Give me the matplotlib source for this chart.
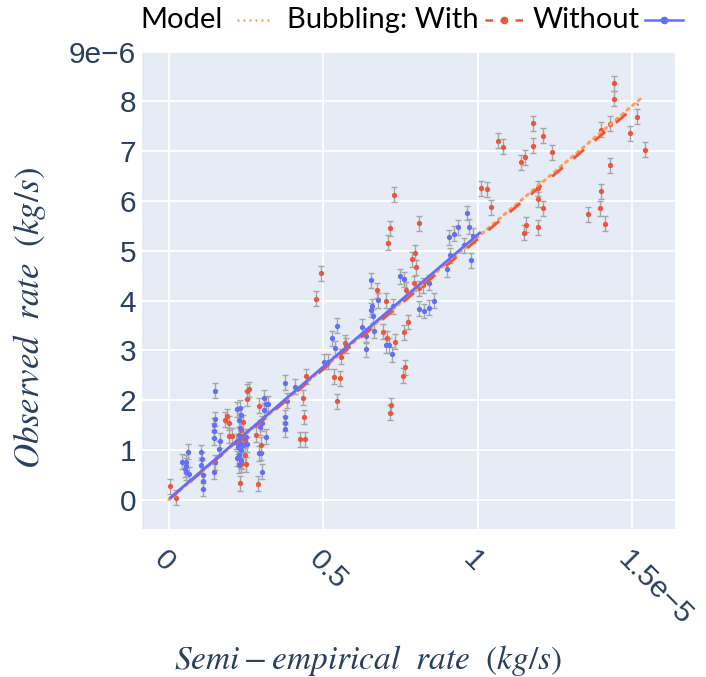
import numpy as np
import matplotlib
matplotlib.use("Agg")
import matplotlib.pyplot as plt
import matplotlib.transforms as mtransforms
from matplotlib.lines import Line2D

plt.rcParams["mathtext.fontset"] = "stix"

# Units used by the stored values
X_UNIT = 1e-5   # semi-empirical rate, kg/s
Y_UNIT = 1e-6   # observed rate, kg/s

# Bubbling: With (semi-empirical, observed)
with_x = [0.003, 0.023, 0.254, 0.258, 0.252, 0.291, 0.187, 0.182, 0.196, 0.195,
          0.206, 0.230, 0.290, 0.233, 0.235, 0.247, 0.249, 0.282, 0.297, 0.241,
          0.233, 0.246,
          0.570, 0.573, 0.559, 0.535, 0.554, 0.545, 0.443, 0.435, 0.438, 0.426,
          0.440, 0.710, 0.716, 0.728, 0.492, 0.475, 0.786, 0.796, 0.802, 0.673,
          0.703, 0.768, 0.794, 0.773, 0.762, 0.692, 0.708, 0.732, 0.766, 0.757,
          0.719, 0.716, 0.811, 0.810, 0.824,
          1.011, 1.031, 1.042, 1.180, 1.178, 1.212, 1.065, 1.081, 1.240, 1.139,
          1.153, 1.194, 1.194, 1.212, 1.158, 1.150, 1.197, 1.441, 1.443, 1.515,
          1.495, 1.542, 1.398, 1.428, 1.430, 1.398, 1.396, 1.358, 1.414]
with_y = [0.27, 0.04, 2.18, 2.22, 2.03, 1.89, 1.68, 1.61, 1.54, 1.28,
          1.28, 0.33, 0.32, 0.76, 0.71, 0.89, 0.71, 1.30, 1.10, 1.56,
          1.40, 1.20,
          3.15, 3.09, 2.87, 2.47, 2.44, 1.98, 2.48, 2.05, 1.66, 1.21,
          1.21, 5.16, 5.45, 6.13, 4.55, 4.04, 4.83, 4.96, 4.67, 4.21,
          4.00, 4.22, 4.35, 3.57, 3.36, 3.37, 3.24, 3.17, 2.66, 2.49,
          1.90, 1.75, 5.55, 4.25, 4.31,
          6.26, 6.24, 5.87, 7.56, 7.11, 7.31, 7.21, 7.09, 6.98, 6.78,
          6.88, 6.26, 6.04, 5.85, 5.52, 5.36, 5.47, 8.37, 8.06, 7.69,
          7.36, 7.03, 7.43, 7.55, 6.72, 6.20, 5.85, 5.73, 5.54]

# Bubbling: Without (semi-empirical, observed)
without_x = [0.149, 0.149, 0.147, 0.146, 0.145, 0.165, 0.163, 0.149, 0.147, 0.111,
             0.112, 0.111, 0.104, 0.106, 0.103, 0.062, 0.055, 0.043, 0.052, 0.057,
             0.064, 0.055, 0.221, 0.230, 0.233, 0.228, 0.230, 0.226, 0.233, 0.219,
             0.230, 0.241, 0.224, 0.235, 0.228, 0.221, 0.235, 0.228, 0.254, 0.249,
             0.292, 0.300,
             0.528, 0.539, 0.504, 0.516, 0.376, 0.408, 0.383, 0.309, 0.314, 0.322,
             0.309, 0.376, 0.376, 0.376, 0.303, 0.295, 0.314, 0.303,
             0.656, 0.678, 0.658, 0.654, 0.662, 0.665, 0.627, 0.640, 0.640, 0.703,
             0.712, 0.724, 0.726, 0.750, 0.762, 0.811, 0.543,
             0.964, 0.973, 0.984, 0.937, 0.923, 0.908, 0.955, 0.978, 0.912, 0.901,
             0.842, 0.859, 0.842, 0.826]
without_y = [2.19, 1.62, 1.50, 1.38, 1.24, 1.18, 1.02, 0.75, 0.56, 0.49,
             0.37, 0.22, 0.95, 0.81, 0.69, 0.96, 0.75, 0.76, 0.61, 0.55,
             0.51, 0.68, 1.82, 1.85, 1.71, 1.60, 1.43, 1.30, 1.23, 1.16,
             1.13, 1.10, 1.06, 1.00, 0.89, 0.83, 0.79, 0.69, 1.11, 1.26,
             0.93, 0.94,
             3.24, 3.04, 2.77, 2.77, 2.35, 2.27, 1.99, 2.05, 1.92, 1.93,
             1.80, 1.66, 1.53, 1.41, 1.53, 1.45, 1.26, 0.56,
             4.41, 4.01, 3.89, 3.81, 3.69, 3.39, 3.47, 3.29, 3.02, 3.10,
             3.10, 2.92, 3.89, 4.49, 4.43, 3.84, 3.49,
             5.76, 5.48, 5.30, 5.47, 5.34, 5.27, 5.11, 4.81, 4.91, 4.63,
             4.36, 4.00, 3.86, 3.79]

# Observation uncertainty (half-width of each error bar)
obs_err = 0.15

# Model and fitted lines (end points)
model_x = [0.0, 1.536]
model_y = [0.0, 8.10]
fit_with_x = [0.003, 1.520]
fit_with_y = [0.02, 7.95]
fit_without_x = [0.005, 1.007]
fit_without_y = [0.04, 5.36]

x_ticks = [0, 0.5, 1, 1.5]
x_tick_labels = ["0", "0.5", "1", "1.5e\u22125"]
y_ticks = [0, 1, 2, 3, 4, 5, 6, 7, 8, 9]
y_tick_labels = ["0", "1", "2", "3", "4", "5", "6", "7", "8", "9e\u22126"]

C_MODEL = "#FFA15A"
C_WITH = "#EF553B"
C_WITHOUT = "#636EFA"
C_ERR = "#a6a6a6"
C_TEXT = "#2a3f5f"
BG = "#E5ECF6"

W, H = 706, 677
fig = plt.figure(figsize=(W / 100, H / 100), dpi=100)
ax = fig.add_axes([0.2007, 0.2186, 0.7553, 0.705])
ax.set_facecolor(BG)
for s in ax.spines.values():
    s.set_visible(False)
ax.set_axisbelow(True)
ax.grid(True, color="white", linewidth=1.3)

ax.set_xlim(-0.088 * X_UNIT, 1.639 * X_UNIT)
ax.set_ylim(-0.59 * Y_UNIT, 9.0 * Y_UNIT)

wx = np.array(with_x) * X_UNIT
wy = np.array(with_y) * Y_UNIT
nx = np.array(without_x) * X_UNIT
ny = np.array(without_y) * Y_UNIT

for xs, ys, col in ((wx, wy, C_WITH), (nx, ny, C_WITHOUT)):
    ax.errorbar(xs, ys, yerr=obs_err * Y_UNIT, fmt="none", ecolor=C_ERR,
                elinewidth=1.0, capsize=2.4, capthick=1.0, zorder=2)
    ax.plot(xs, ys, "o", ms=3.8, color=col, mec="none", zorder=3)

ax.plot(np.array(model_x) * X_UNIT, np.array(model_y) * Y_UNIT, color=C_MODEL,
        linestyle=(0, (0.8, 1.6)), linewidth=2.2, dash_capstyle="round", zorder=4)
ax.plot(np.array(fit_with_x) * X_UNIT, np.array(fit_with_y) * Y_UNIT, color=C_WITH,
        linestyle=(0, (5, 5)), linewidth=2.0, zorder=5)
ax.plot(np.array(fit_without_x) * X_UNIT, np.array(fit_without_y) * Y_UNIT,
        color=C_WITHOUT, linestyle="-", linewidth=2.0, zorder=5)

ax.set_xticks(np.array(x_ticks) * X_UNIT)
ax.set_xticklabels(x_tick_labels, rotation=-45, ha="left", va="top",
                   rotation_mode="anchor", family="Liberation Sans", fontsize=21.5,
                   color=C_TEXT)
shift = mtransforms.ScaledTranslation(7 / 100, -2 / 100, fig.dpi_scale_trans)
for lab in ax.get_xticklabels():
    lab.set_transform(lab.get_transform() + shift)
ax.set_yticks(np.array(y_ticks) * Y_UNIT)
ax.set_yticklabels(y_tick_labels, family="Liberation Sans", fontsize=21.5,
                   color=C_TEXT)
ax.tick_params(axis="both", length=0)
ax.tick_params(axis="y", pad=4)
ax.tick_params(axis="x", pad=12)

fig.text(368 / W, 1 - 660 / H, r"$Semi-empirical\ \ rate\ \ (kg/s)$",
         fontsize=24, color=C_TEXT, ha="center", va="center")
fig.text(30 / W, 1 - 318 / H, r"$Observed\ \ rate\ \ (kg/s)$", fontsize=25,
         color=C_TEXT, ha="center", va="center", rotation=90)

# Legend row across the top
leg_y = 1 - 20 / H
leg_font = {"family": "Lato", "size": 21, "color": "black"}
for label, x0 in (("Model", 140), ("Bubbling: With", 287), ("Without", 533)):
    fig.text(x0 / W, leg_y, label, ha="left", va="center", **leg_font)
samples = [
    dict(xr=(237, 272), color=C_MODEL, ls=(0, (0.8, 1.6)), marker=None),
    dict(xr=(485, 523), color=C_WITH, ls=(0, (3, 3)), marker="o"),
    dict(xr=(645, 683), color=C_WITHOUT, ls="-", marker="o"),
]
for smp in samples:
    x0, x1 = smp["xr"]
    fig.add_artist(Line2D([x0 / W, x1 / W], [leg_y, leg_y], transform=fig.transFigure,
                          color=smp["color"], linestyle=smp["ls"], linewidth=1.8))
    if smp["marker"]:
        fig.add_artist(Line2D([(x0 + x1) / 2 / W], [leg_y], transform=fig.transFigure,
                              color=smp["color"], marker="o", ms=4.5, linestyle="none"))

fig.savefig("out.png", dpi=100, facecolor="white")
